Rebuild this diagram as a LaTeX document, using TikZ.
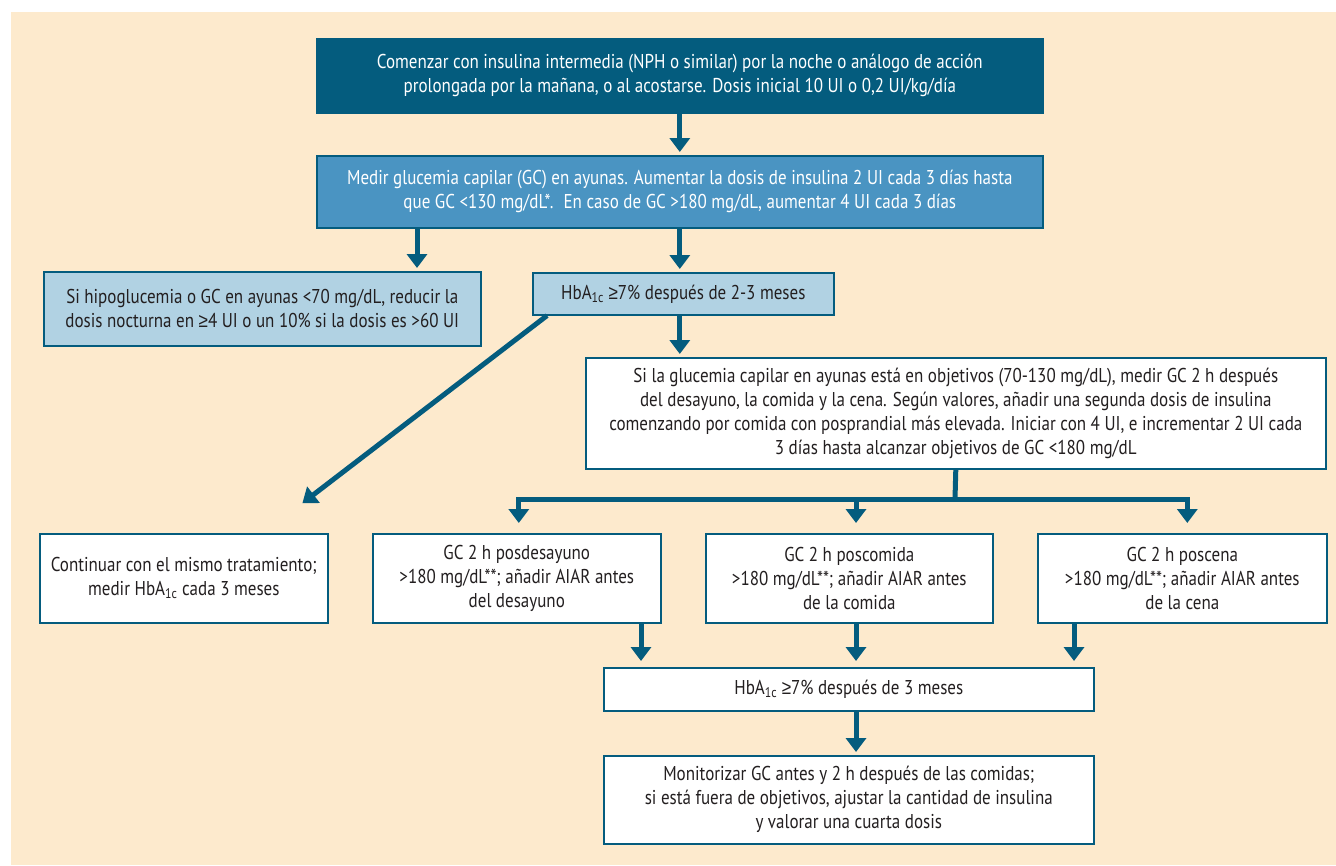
\documentclass[tikz,border=0pt]{standalone}
\usepackage{fontspec}
\setmainfont{PT Sans}[FakeStretch=0.85]
\newfontfamily\simbolo{Liberation Sans}[FakeStretch=0.85]
\newcommand{\mayorigual}{{\simbolo ≥}}
\usetikzlibrary{positioning, arrows.meta}

\definecolor{fondo}{HTML}{FDEACD}
\definecolor{azuloscuro}{HTML}{045C7E}
\definecolor{azulmedio}{HTML}{4A94C2}
\definecolor{azulclaro}{HTML}{B1D2E3}
\definecolor{texto}{HTML}{231F20}

\begin{document}
\begin{tikzpicture}[x=1pt,y=-1pt]

	\tikzstyle{every node}=[font=\fontsize{20}{24}\selectfont, align=center, inner sep=0pt, anchor=north west]
	\tikzstyle{caja} = [draw=azuloscuro, line width=1.6pt, fill=white, text=texto]
	\tikzstyle{flecha} = [draw=azuloscuro, line width=5pt, -{Triangle[width=20pt,length=14pt]}, shorten >=3pt]

	\useasboundingbox (0,0) rectangle (1336,865);
	\fill[fondo] (11,12) rectangle (1336,865);

	\node[caja, fill=azuloscuro, text=white, minimum width=726pt, minimum height=74pt] (inicio) at (316,38)
		{Comenzar con insulina intermedia (NPH o similar) por la noche o análogo de acción \\ prolongada por la mañana, o al acostarse. Dosis inicial 10 UI o 0,2 UI/kg/día};
	\node[caja, fill=azulmedio, text=white, minimum width=726pt, minimum height=72pt] (medir) at (316,155)
		{Medir glucemia capilar (GC) en ayunas. Aumentar la dosis de insulina 2 UI cada 3 días hasta \\ que GC <130 mg/dL*.\enspace En caso de GC >180 mg/dL, aumentar 4 UI cada 3 días};
	\node[caja, fill=azulclaro, minimum width=437pt, minimum height=74pt] (hipo) at (43,271)
		{Si hipoglucemia o GC en ayunas <70 mg/dL, reducir la \\ dosis nocturna en \mayorigual4 UI o un 10\% si la dosis es >60 UI};
	\node[caja, fill=azulclaro, minimum width=301pt, minimum height=42pt] (hba) at (532,272)
		{HbA\textsubscript{1c} \mayorigual7\% después de 2-3 meses};
	\node[caja, minimum width=740pt, minimum height=111pt] (segunda) at (585,357)
		{Si la glucemia capilar en ayunas está en objetivos (70-130 mg/dL), medir GC 2 h después \\ del desayuno, la comida y la cena. Según valores, añadir una segunda dosis de insulina \\ comenzando por comida con posprandial más elevada. Iniciar con 4 UI, e incrementar 2 UI cada \\ 3 días hasta alcanzar objetivos de GC <180 mg/dL};

	\node[caja, minimum width=288pt, minimum height=89pt] (seguir) at (39,533)
		{Continuar con el mismo tratamiento; \\ medir HbA\textsubscript{1c} cada 3 meses};
	\node[caja, minimum width=288pt, minimum height=89pt] (desa) at (372,533)
		{GC 2 h posdesayuno \\ >180 mg/dL**; añadir AIAR antes \\ del desayuno};
	\node[caja, minimum width=287pt, minimum height=89pt] (comida) at (705,533)
		{GC 2 h poscomida \\ >180 mg/dL**; añadir AIAR antes \\ de la comida};
	\node[caja, minimum width=289pt, minimum height=89pt] (cena) at (1037,533)
		{GC 2 h poscena \\ >180 mg/dL**; añadir AIAR antes \\ de la cena};

	\node[caja, minimum width=490pt, minimum height=43pt] (hbatres) at (603,667)
		{HbA\textsubscript{1c} \mayorigual7\% después de 3 meses};
	\node[caja, minimum width=490pt, minimum height=88pt] (monitor) at (603,755)
		{Monitorizar GC antes y 2 h después de las comidas; \\ si está fuera de objetivos, ajustar la cantidad de insulina \\ y valorar una cuarta dosis};

	% puntos de paso
	\coordinate (izq)  at (417,0);
	\coordinate (rama) at (955,499);
	\coordinate (medio) at (856,0);
	\coordinate (b1) at (641,0);
	\coordinate (b3) at (1074,0);
	\coordinate (fin) at (300,505);

	\draw[flecha] (inicio.south) -- (medir.north);
	\draw[flecha] (medir.south -| izq) -- (hipo.north -| izq);
	\draw[flecha] (medir.south) -- (medir.south |- hba.north);
	\draw[flecha] (hba.south -| medir.south) -- (segunda.north -| medir.south);
	\draw[flecha] ([xshift=15pt]hba.south west) -- (fin);

	\draw[draw=azuloscuro, line width=5pt] (segunda.south) -- (rama);
	\draw[flecha, shorten >=10pt] (rama) -| ([xshift=2pt]desa.north);
	\draw[flecha, shorten >=10pt] (rama) -| ([xshift=5pt]cena.north);
	\draw[flecha, shorten >=10pt] (rama -| medio) -- (comida.north -| medio);

	\draw[flecha, shorten >=6pt] (desa.south -| b1) -- (hbatres.north -| b1);
	\draw[flecha, shorten >=6pt] (comida.south -| medio) -- (hbatres.north -| medio);
	\draw[flecha, shorten >=6pt] (cena.south -| b3) -- (hbatres.north -| b3);
	\draw[flecha] (hbatres.south -| medio) -- (monitor.north -| medio);

\end{tikzpicture}
\end{document}
